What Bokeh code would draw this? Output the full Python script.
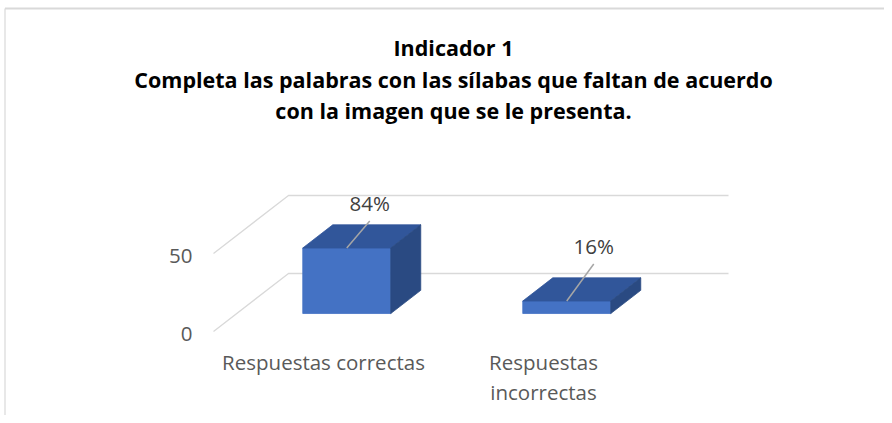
import textwrap
from bokeh.plotting import figure
from bokeh.models import Range1d
from bokeh.core.properties import value
from bokeh.embed import file_html
from bokeh.resources import INLINE

# ---------------- data ----------------
categories = ["Respuestas correctas", "Respuestas incorrectas"]
counts = [42, 8]
percent_labels = ["84%", "16%"]
y_ticks = [0, 50]
title_lines = [
    "Indicador 1",
    "Completa las palabras con las sílabas que faltan de acuerdo",
    "con la imagen que se le presenta.",
]

# ---------------- layout / style ----------------
W, H = 884, 415
PX_C = 220.0          # pixels per category unit
PX_V = 1.56           # pixels per value unit
DEPTH_DX, DEPTH_DY = 75.0, 58.0   # pixel offset of the back wall
ORIGIN_X, ORIGIN_Y = 213.0, 331.0  # image position of (cat 0, value 0, depth 0)
BAR_HALF = 0.2
D0, D1 = 0.31, 0.71
FRONT, TOP, SIDE = "#4472C4", "#31569A", "#2A4A82"
GRID = "#D9D9D9"
TXT = "#595959"
FONT = "Open Sans"
LBL_SIZE = "20.5px"

x_start = (0 - ORIGIN_X) / PX_C
x_end = (W - ORIGIN_X) / PX_C
y_end = (ORIGIN_Y - 0) / PX_V
y_start = (ORIGIN_Y - H) / PX_V


def proj(c, v, d):
    """3D (category, value, depth) -> 2D data coords."""
    return c + d * DEPTH_DX / PX_C, v + d * DEPTH_DY / PX_V


def page(px, py):
    return (px - ORIGIN_X) / PX_C, (ORIGIN_Y - py) / PX_V


p = figure(width=W, height=H, output_backend="svg", toolbar_location=None,
           x_range=Range1d(x_start, x_end), y_range=Range1d(y_start, y_end),
           min_border=0)
p.axis.visible = False
p.grid.visible = False
p.outline_line_color = None
p.border_fill_color = "white"
p.background_fill_color = "white"

# chart-area border (top and left visible)
bx0, by0 = page(4.5, 8)
bx1, by1 = page(W, H)
p.segment([bx0], [by0], [bx1], [by0], line_color=GRID, line_width=2)
p.segment([bx0], [by0], [bx0], [by1], line_color=GRID, line_width=1.2)

ncat = len(categories)

# gridlines (left wall + back wall)
for t in y_ticks:
    pts = [proj(0, t, 0), proj(0, t, 1), proj(ncat, t, 1)]
    p.line([q[0] for q in pts], [q[1] for q in pts], line_color=GRID, line_width=1.3)
    p.text([0], [t], text=[str(t)], text_align="right", text_baseline="middle",
           x_offset=-21, y_offset=2, text_font=value(FONT), text_font_size=LBL_SIZE,
           text_color=TXT)

# bars
for i, v in enumerate(counts):
    c = i + 0.5
    l, r = c - BAR_HALF, c + BAR_HALF
    faces = [
        ([(l, 0, D0), (r, 0, D0), (r, v, D0), (l, v, D0)], FRONT),
        ([(l, v, D0), (r, v, D0), (r, v, D1), (l, v, D1)], TOP),
        ([(r, 0, D0), (r, 0, D1), (r, v, D1), (r, v, D0)], SIDE),
    ]
    for pts3, col in faces:
        pts = [proj(*q) for q in pts3]
        p.patch([q[0] for q in pts], [q[1] for q in pts], fill_color=col,
                line_color=col, line_width=0.8)

# data labels with leader lines
leader_offsets = [(23, 27), (27, 37)]
for i, (v, lab) in enumerate(zip(counts, percent_labels)):
    sx, sy = proj(i + 0.5, v, D0)
    dx, dy = leader_offsets[i]
    ex, ey = sx + dx / PX_C, sy + dy / PX_V
    p.segment([sx], [sy], [ex], [ey], line_color="#A6A6A6", line_width=1.5)
    p.text([ex], [ey], text=[lab], text_align="center", text_baseline="middle",
           y_offset=-18, text_font=value(FONT), text_font_size=LBL_SIZE,
           text_color="#404040")

# category labels
for i, cat in enumerate(categories):
    x, y = proj(i + 0.5, 0, 0)
    p.text([x], [y], text=[textwrap.fill(cat, 20)], text_align="center",
           text_baseline="top", y_offset=16, text_font=value(FONT),
           text_font_size=LBL_SIZE, text_color=TXT, text_line_height=1.08)

# title
for k, line in enumerate(title_lines):
    tx, ty = page(453, 47 + 31.5 * k)
    p.text([tx], [ty], text=[line], text_align="center", text_baseline="middle",
           text_font=value(FONT), text_font_size="21.5px", text_font_style="bold",
           text_color="black")

open("out.html", "w").write(file_html(p, INLINE))
